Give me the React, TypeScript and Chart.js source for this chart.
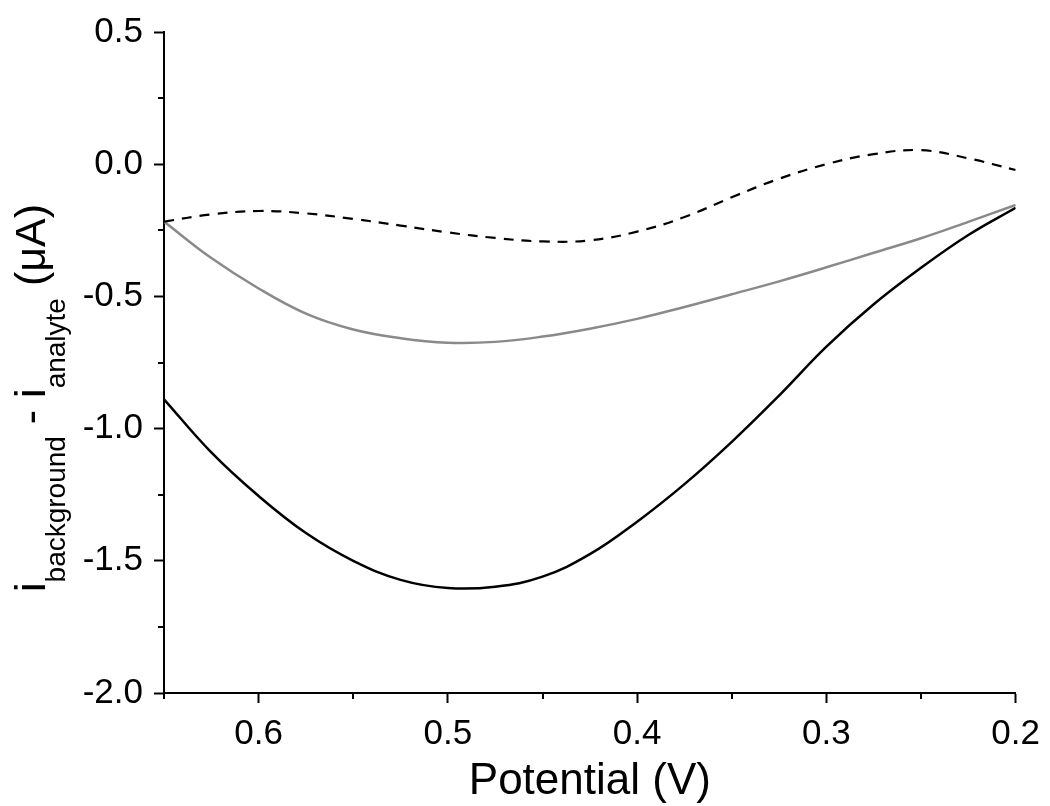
import React, { useEffect, useRef } from 'react';
import { Chart, registerables } from 'chart.js';

Chart.register(...registerables);

// Potential (V)
const potentials = [
  0.65, 0.625, 0.6, 0.575, 0.55, 0.525, 0.5, 0.475, 0.45, 0.425,
  0.4, 0.375, 0.35, 0.325, 0.3, 0.275, 0.25, 0.225, 0.2,
];

// i_background - i_analyte (µA)
const blackSeries = [
  -0.889, -1.09, -1.255, -1.395, -1.5, -1.572, -1.603, -1.598, -1.56, -1.475,
  -1.352, -1.21, -1.05, -0.875, -0.69, -0.53, -0.392, -0.268, -0.165,
];
const graySeries = [
  -0.217, -0.355, -0.47, -0.565, -0.625, -0.658, -0.675, -0.672, -0.652, -0.622,
  -0.585, -0.54, -0.492, -0.443, -0.39, -0.335, -0.28, -0.218, -0.154,
];
const dashedSeries = [
  -0.217, -0.19, -0.177, -0.186, -0.207, -0.232, -0.258, -0.279, -0.292, -0.288,
  -0.255, -0.2, -0.125, -0.055, 0.0, 0.038, 0.053, 0.022, -0.022,
];

const xMajorTicks = [0.6, 0.5, 0.4, 0.3, 0.2];
const xMinorTicks = [0.65, 0.55, 0.45, 0.35, 0.25];
const yMajorTicks = [0.5, 0.0, -0.5, -1.0, -1.5, -2.0];
const yMinorTicks = [0.25, -0.25, -0.75, -1.25, -1.75];

const xTitle = 'Potential (V)';
const yTitleParts = [
  { text: 'i', sub: false },
  { text: 'background', sub: true },
  { text: ' - i', sub: false },
  { text: 'analyte', sub: true },
  { text: ' (\u03BCA)', sub: false },
];

const FONT = '"Liberation Sans", Arial, sans-serif';

const minorTicksPlugin = {
  id: 'minorTicks',
  afterDraw(chart: any) {
    const { ctx, scales } = chart;
    const x = scales.x;
    const y = scales.y;
    const area = chart.chartArea;
    ctx.save();
    ctx.strokeStyle = '#000';
    ctx.lineWidth = 2;
    ctx.beginPath();
    xMinorTicks.forEach((v) => {
      const px = Math.round(x.getPixelForValue(v));
      ctx.moveTo(px, area.bottom);
      ctx.lineTo(px, area.bottom + 6);
    });
    yMinorTicks.forEach((v) => {
      const py = Math.round(y.getPixelForValue(v));
      ctx.moveTo(area.left, py);
      ctx.lineTo(area.left - 6, py);
    });
    ctx.stroke();
    ctx.restore();
  },
};

const yTitlePlugin = {
  id: 'yTitle',
  afterDraw(chart: any) {
    const ctx = chart.ctx;
    ctx.save();
    ctx.fillStyle = '#000';
    ctx.textAlign = 'left';
    ctx.textBaseline = 'alphabetic';
    ctx.translate(45, 592);
    ctx.rotate(-Math.PI / 2);
    let cx = 0;
    for (const part of yTitleParts) {
      ctx.font = part.sub ? `28px ${FONT}` : `43px ${FONT}`;
      ctx.fillText(part.text, cx, part.sub ? 20 : 0);
      cx += ctx.measureText(part.text).width;
    }
    ctx.restore();
  },
};

export default function App() {
  const canvasRef = useRef<HTMLCanvasElement | null>(null);

  useEffect(() => {
    if (!canvasRef.current) return;
    const chart = new Chart(canvasRef.current, {
      type: 'line',
      data: {
        labels: potentials,
        datasets: [
          {
            label: 'dashed',
            data: potentials.map((p, i) => ({ x: p, y: dashedSeries[i] })),
            borderColor: '#000',
            borderWidth: 2.2,
            borderDash: [10, 8],
            pointRadius: 0,
            tension: 0.4,
            fill: false,
          },
          {
            label: 'gray',
            data: potentials.map((p, i) => ({ x: p, y: graySeries[i] })),
            borderColor: '#8a8a8a',
            borderWidth: 2.5,
            pointRadius: 0,
            tension: 0.4,
            fill: false,
          },
          {
            label: 'black',
            data: potentials.map((p, i) => ({ x: p, y: blackSeries[i] })),
            borderColor: '#000',
            borderWidth: 2.5,
            pointRadius: 0,
            tension: 0.4,
            fill: false,
          },
        ],
      },
      options: {
        animation: false,
        responsive: false,
        devicePixelRatio: 1,
        layout: { padding: { top: 29, right: 33, left: 0, bottom: 0 } },
        plugins: {
          legend: { display: false },
          tooltip: { enabled: false },
        },
        scales: {
          x: {
            type: 'linear',
            reverse: true,
            min: 0.2,
            max: 0.65,
            afterBuildTicks: (s: any) => {
              s.ticks = xMajorTicks.map((v) => ({ value: v }));
            },
            afterFit: (s: any) => {
              s.height = 113;
            },
            ticks: {
              color: '#000',
              font: { family: FONT, size: 35 },
              padding: 10,
              maxRotation: 0,
              autoSkip: false,
              callback: (v: any) => Number(v).toFixed(1),
            },
            grid: {
              drawOnChartArea: false,
              drawTicks: true,
              tickLength: 10,
              tickColor: '#000',
              tickWidth: 2,
            },
            border: { display: true, color: '#000', width: 2 },
            title: {
              display: true,
              text: xTitle,
              color: '#000',
              font: { family: FONT, size: 44 },
              padding: { top: 0, bottom: -2 },
            },
          },
          y: {
            type: 'linear',
            min: -2.0,
            max: 0.5,
            afterBuildTicks: (s: any) => {
              s.ticks = yMajorTicks.map((v) => ({ value: v }));
            },
            afterFit: (s: any) => {
              s.width = 164;
            },
            ticks: {
              color: '#000',
              font: { family: FONT, size: 35 },
              padding: 11,
              autoSkip: false,
              callback: (v: any) => {
                const n = Number(v);
                return (Math.abs(n) < 1e-9 ? 0 : n).toFixed(1);
              },
            },
            grid: {
              drawOnChartArea: false,
              drawTicks: true,
              tickLength: 10,
              tickColor: '#000',
              tickWidth: 2,
            },
            border: { display: true, color: '#000', width: 2 },
          },
        },
      },
      plugins: [minorTicksPlugin, yTitlePlugin],
    } as any);
    return () => chart.destroy();
  }, []);

  return (
    <div style={{ position: 'absolute', left: 0, top: 0, width: 1050, height: 806, background: '#fff' }}>
      <canvas ref={canvasRef} width={1050} height={806} style={{ display: 'block' }} />
    </div>
  );
}
